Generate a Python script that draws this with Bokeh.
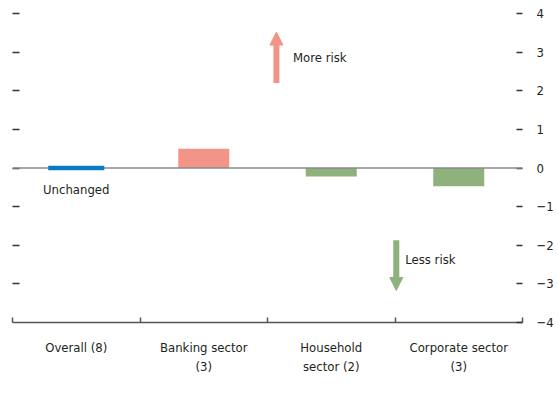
from bokeh.plotting import figure
from bokeh.models import Range1d, LinearAxis, FixedTicker, Span, Arrow, NormalHead, Label
from bokeh.embed import file_html
from bokeh.resources import INLINE

# ---- data ----
categories = ["Overall (8)", "Banking sector\n(3)", "Household\nsector (2)", "Corporate sector\n(3)"]
values = [0.0, 0.5, -0.22, -0.47]
bar_colors = ["#0A7CC1", "#F29487", "#8FB27D", "#8FB27D"]
y_ticks = [-4, -3, -2, -1, 0, 1, 2, 3, 4]

FONT = "'Liberation Sans Narrow', 'DejaVu Sans Condensed', sans-serif"
TXT = "#231f20"
SALMON = "#F29487"
GREEN = "#8FB27D"

n = len(categories)
centers = [i + 0.5 for i in range(n)]
bounds = [i for i in range(n + 1)]

p = figure(width=558, height=400, x_range=Range1d(0, n), y_range=Range1d(-4, 4),
           y_axis_location="right", output_backend="svg", toolbar_location=None,
           min_border_left=12, min_border_right=36, min_border_top=13, min_border_bottom=78)
p.outline_line_color = None
p.xgrid.visible = False
p.ygrid.visible = False
p.background_fill_color = "white"
p.border_fill_color = "white"

# bars (non-zero)
nz = [i for i, v in enumerate(values) if v != 0]
p.vbar(x=[centers[i] for i in nz], top=[values[i] for i in nz], bottom=0, width=0.4,
       fill_color=[bar_colors[i] for i in nz], line_color=None)

p.add_layout(Span(location=0, dimension="width", line_color="#8a8a8a", line_width=1.5))

# unchanged (zero) shown as thin bar, drawn over the zero line
z = [i for i, v in enumerate(values) if v == 0]
p.rect(x=[centers[i] for i in z], y=[values[i] for i in z], width=0.44, height=4.5,
       height_units="screen", fill_color=[bar_colors[i] for i in z], line_color=None,
       level="overlay")

# x axis
xa = p.xaxis[0]
xa.ticker = FixedTicker(ticks=centers, minor_ticks=bounds)
xa.major_label_overrides = {c: lab for c, lab in zip(centers, categories)}
xa.major_tick_in = 0
xa.major_tick_out = 0
xa.minor_tick_in = 5
xa.minor_tick_out = 0
xa.minor_tick_line_color = "#555555"
xa.minor_tick_line_width = 1.5
xa.axis_line_color = "#555555"
xa.axis_line_width = 1.5
xa.major_label_standoff = 17
xa.major_label_text_font = FONT
xa.major_label_text_font_size = "13px"
xa.major_label_text_color = TXT
xa.major_label_text_line_height = 1.3

# right y axis
ya = p.yaxis[0]
ya.ticker = FixedTicker(ticks=y_ticks)
ya.major_label_overrides = {t: str(t).replace("-", "\u2212") for t in y_ticks}
ya.axis_line_color = None
ya.major_tick_in = 6
ya.major_tick_out = 0
ya.major_tick_line_color = "#333333"
ya.major_tick_line_width = 1.5
ya.minor_tick_line_color = None
ya.major_label_standoff = 14
ya.major_label_text_font = FONT
ya.major_label_text_font_size = "13px"
ya.major_label_text_color = TXT

# left y axis (ticks only, drawn as minor ticks so no labels exist)
la = LinearAxis(ticker=FixedTicker(ticks=[], minor_ticks=[t for t in y_ticks if t > -4]))
la.axis_line_color = None
la.major_tick_line_color = None
la.minor_tick_in = 7
la.minor_tick_out = 0
la.minor_tick_line_color = "#333333"
la.minor_tick_line_width = 1.5
la.major_label_standoff = 0
p.add_layout(la, "left")

# annotations
MORE_X, MORE_Y0, MORE_Y1 = 2.07, 2.2, 3.52
LESS_X, LESS_Y0, LESS_Y1 = 3.01, -1.87, -3.17
p.add_layout(Arrow(x_start=MORE_X, y_start=MORE_Y0, x_end=MORE_X, y_end=MORE_Y1,
                   line_color=SALMON, line_width=6,
                   end=NormalHead(size=13, fill_color=SALMON, line_color=SALMON)))
p.add_layout(Arrow(x_start=LESS_X, y_start=LESS_Y0, x_end=LESS_X, y_end=LESS_Y1,
                   line_color=GREEN, line_width=6,
                   end=NormalHead(size=13, fill_color=GREEN, line_color=GREEN)))

for x, y, t, al in [(2.2, 2.85, "More risk", "left"), (3.08, -2.36, "Less risk", "left"),
                    (centers[0], -0.55, "Unchanged", "center")]:
    p.add_layout(Label(x=x, y=y, text=t, text_align=al, text_baseline="middle",
                       text_font=FONT, text_font_size="13px", text_color=TXT))

open("out.html", "w").write(file_html(p, INLINE))
